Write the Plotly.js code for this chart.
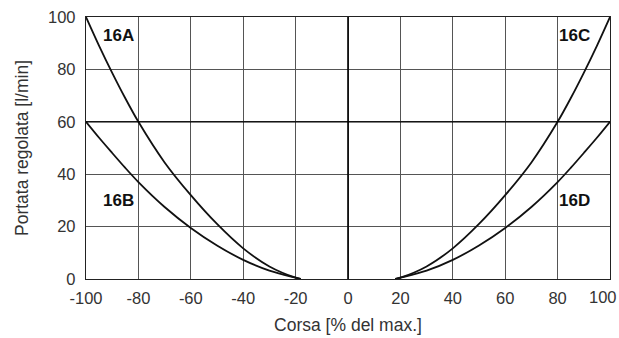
<!DOCTYPE html>
<html>
<head>
<meta charset="utf-8">
<script src="https://cdn.plot.ly/plotly-3.0.1.min.js"></script>
<style>html,body{margin:0;padding:0;background:#fff;}#chart{width:619px;height:338px;}</style>
</head>
<body>
<div id="chart"></div>
<script>
// Left branch (16A, 16B)
const leftX = [-100, -95, -90, -85, -80, -70, -60, -50, -40, -30, -20, -18];
const y16A  = [100, 89, 78.7, 69, 60, 44.5, 32, 21, 11.7, 4.8, 0.5, 0];
const y16B  = [60, 53.9, 48.1, 42.4, 37, 27.5, 19.5, 12.8, 7.3, 3.2, 0.5, 0];
// Right branch (16C, 16D)
const rightX = [18, 20, 30, 40, 50, 60, 70, 80, 85, 90, 95, 100];
const y16C  = [0, 0.5, 4.8, 11.7, 21, 32, 44.5, 60, 69, 78.7, 89, 100];
const y16D  = [0, 0.5, 3.2, 7.3, 12.8, 19.5, 27.5, 37, 42.4, 48.1, 53.9, 60];
const curveLabels = ['16A', '16B', '16C', '16D'];
const labelX = [-87.5, -87.5, 86.5, 86.5];
const labelY = [93, 30, 93, 30];
const xTicks = [-100, -80, -60, -40, -20, 0, 20, 40, 60, 80];
const xLastTick = 100;
const yTicks = [0, 20, 40, 60, 80, 100];

const FONT = 'Liberation Sans, Arial, sans-serif';
const lineStyle = {color: '#111', width: 1.8, shape: 'spline', smoothing: 0.8};
const traces = [
  {x: leftX, y: y16A, mode: 'lines', line: lineStyle, hoverinfo: 'skip'},
  {x: leftX, y: y16B, mode: 'lines', line: lineStyle, hoverinfo: 'skip'},
  {x: rightX, y: y16C, mode: 'lines', line: lineStyle, hoverinfo: 'skip'},
  {x: rightX, y: y16D, mode: 'lines', line: lineStyle, hoverinfo: 'skip'},
  {x: [0, 0], y: [0, 100], mode: 'lines', line: {color: '#000', width: 1.6}, hoverinfo: 'skip'},
  {x: [-100, 100], y: [60, 60], mode: 'lines', line: {color: '#000', width: 1.2}, hoverinfo: 'skip'}
];

const annotations = curveLabels.map((t, i) => ({
  x: labelX[i], y: labelY[i], xref: 'x', yref: 'y', text: '<b>' + t + '</b>',
  showarrow: false, font: {family: FONT, size: 17, color: '#111'}
}));
// last x tick label, pulled inside the page like in the reference
annotations.push({
  x: xLastTick, y: 0, xref: 'x', yref: 'y', text: String(xLastTick),
  showarrow: false, xanchor: 'center', yanchor: 'top', xshift: -7, yshift: -7,
  font: {family: FONT, size: 16.5, color: '#333'}
});

const layout = {
  width: 619, height: 338,
  margin: {l: 86, r: 9, t: 17, b: 59},
  paper_bgcolor: '#fff', plot_bgcolor: '#fff',
  showlegend: false,
  font: {family: FONT, color: '#333'},
  xaxis: {
    range: [-100, 100], tickvals: xTicks, ticktext: xTicks.map(String),
    showgrid: true, gridcolor: '#555', gridwidth: 1,
    zeroline: false, showline: true, linecolor: '#222', linewidth: 1.2, mirror: true,
    ticks: 'outside', ticklen: 4, tickcolor: 'rgba(0,0,0,0)',
    tickfont: {size: 16.5, color: '#333'},
    title: {text: 'Corsa [% del max.]', font: {size: 17.5, color: '#333'}, standoff: 12}
  },
  yaxis: {
    range: [0, 100], tickvals: yTicks, ticktext: yTicks.map(String),
    showgrid: true, gridcolor: '#555', gridwidth: 1,
    zeroline: false, showline: true, linecolor: '#222', linewidth: 1.2, mirror: true,
    ticks: 'outside', ticklen: 6, tickcolor: 'rgba(0,0,0,0)',
    tickfont: {size: 16.5, color: '#333'},
    title: {text: 'Portata regolata [l/min]', font: {size: 17.5, color: '#333'}, standoff: 14}
  },
  annotations: annotations
};

Plotly.newPlot('chart', traces, layout, {staticPlot: true, displayModeBar: false});
</script>
</body>
</html>
